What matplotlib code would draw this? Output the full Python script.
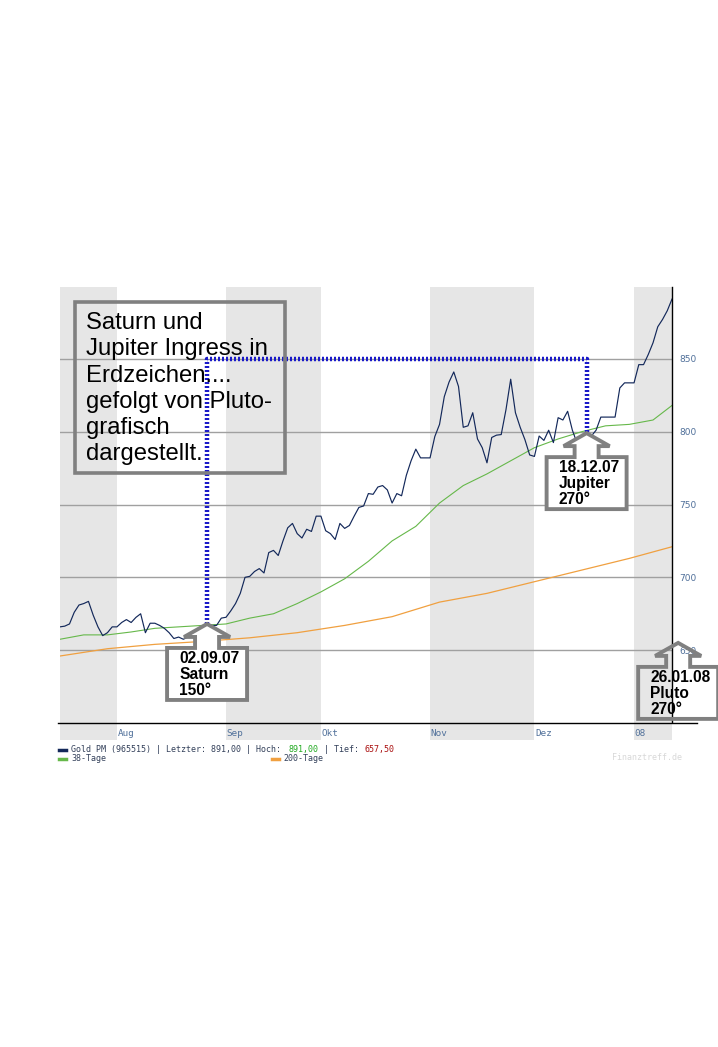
import numpy as np
import matplotlib
matplotlib.use("Agg")
import matplotlib.pyplot as plt
import matplotlib.patches as mpatches
import matplotlib.transforms as mtransforms
from matplotlib.lines import Line2D

# Gold PM fixing, one value per trading day (mid Jul 2007 - Jan 2008)
gold = [666, 666.5, 668, 676, 681, 682, 683.5, 674, 666, 660,
        662, 666, 666, 669, 671, 669, 672.5, 675, 662, 668.5,
        668.5, 667, 665, 662, 658, 659, 657.5, 659, 661, 663,
        665, 668, 667, 667, 672, 672.6, 677, 682, 689, 700,
        700.7, 704, 706, 703, 717, 718.5, 715, 725, 734, 737,
        730, 727, 733, 731.5, 742, 742, 732, 730, 726, 737,
        733.6, 735.6, 742, 748, 749, 757.5, 757, 762, 763, 760,
        751, 757.5, 756, 770, 780, 788, 782, 782, 782, 796.6,
        805, 824, 834, 841, 831, 803, 804, 813, 795, 789,
        778.6, 796, 797.6, 798, 815, 836, 813, 803, 794.5, 784,
        783, 797, 794, 801, 792.5, 809.6, 808, 814, 801, 792,
        791, 799, 797, 801, 810, 810, 810, 810, 830, 833.5,
        833.5, 833.5, 846, 846, 853, 861, 872, 877, 883, 891]

# moving averages (read every few trading days)
ma38_idx = [0, 5, 10, 15, 20, 25, 30, 35, 40, 45, 50, 55, 60, 65, 70, 75,
            80, 85, 90, 95, 100, 105, 110, 115, 120, 125, 129]
ma38 = [657.5, 660.5, 660.5, 662.5, 665, 666, 667, 668, 672, 675, 682, 690,
        699, 711, 725, 735, 751, 763, 771, 780, 789, 795, 800, 804, 805, 808, 818]
ma200_idx = [0, 10, 20, 30, 40, 50, 60, 70, 80, 90, 100, 110, 120, 129]
ma200 = [646, 651, 654, 656, 658.5, 662, 667, 673, 683, 689, 697, 705, 713, 721]

months = ["Aug", "Sep", "Okt", "Nov", "Dez", "08"]
month_start = [12, 35, 55, 78, 100, 121]
gray_months = [(0, 12), (35, 55), (78, 100), (121, 129)]
yticks = [650, 700, 750, 800, 850]

saturn_idx, jupiter_idx = 31, 111
pluto_pos = (130.3, 655)
ingress_level = 850

W, H = 718, 1047
fig = plt.figure(figsize=(W / 100, H / 100), dpi=100)
ax = fig.add_axes([60 / W, 1 - 722 / H, 612 / W, 435 / H])
ax.set_xlim(0, 129)
ax.set_ylim(600.7, 899.3)

for a, b in gray_months:
    ax.axvspan(a, b, ymin=-0.041, ymax=1, color="#e6e6e6", lw=0, zorder=0, clip_on=False)
for v in yticks:
    ax.axhline(v, color="#a0a0a0", lw=1, zorder=1)

x = np.arange(len(gold))
ax.plot(ma200_idx, ma200, color="#f0a040", lw=0.9, zorder=2)
ax.plot(ma38_idx, ma38, color="#66b84a", lw=0.8, zorder=2)
ax.plot(x, gold, color="#13285a", lw=0.85, zorder=3)

for sp in ["top", "left", "bottom"]:
    ax.spines[sp].set_visible(False)
ax.spines["right"].set_color("black")
ax.spines["right"].set_linewidth(1)
ax.spines["right"].set_zorder(8)
ax.set_xticks([])
ax.yaxis.tick_right()
ax.set_yticks(yticks)
ax.tick_params(axis="y", length=0, pad=5, labelsize=6.5, labelcolor="#50709a")

fig.add_artist(Line2D([58 / W, 697 / W], [1 - 722.5 / H] * 2, color="black", lw=1))

for m, s in zip(months, month_start):
    ax.text(s + 0.1, -0.027, m, transform=ax.get_xaxis_transform(), fontsize=6.7,
            family="DejaVu Sans Mono", color="#50709a", va="center", ha="left")

# dotted connection Saturn -> Jupiter
ax.plot([saturn_idx, saturn_idx, jupiter_idx, jupiter_idx],
        [gold[saturn_idx], ingress_level, ingress_level, gold[jupiter_idx]],
        color="#1a1ac8", lw=3.2, ls=(0, (0.45, 0.45)), zorder=6)

# text box
fig.add_artist(mpatches.Rectangle((75 / W, 1 - 473 / H), 210 / W, 171 / H, fill=False,
                                  edgecolor="#808080", lw=2.6, zorder=5))
fig.text(86 / W, 1 - 312 / H,
         "Saturn und\nJupiter Ingress in\nErdzeichen....\ngefolgt von Pluto-\ngrafisch\ndargestellt.",
         family="Liberation Sans", fontsize=17.2, linespacing=1.25, va="top", ha="left", zorder=5)

# arrow callouts
shape = [(0, 0), (23, -13), (12, -13), (12, -24), (40, -24), (40, -76),
         (-40, -76), (-40, -24), (-12, -24), (-12, -13), (-23, -13)]


def callout(pos, label, filled=True):
    fig.canvas.draw()
    px, py = ax.transData.transform(pos)
    tr = mtransforms.Affine2D().translate(px, py)
    poly = mpatches.Polygon(shape, closed=True, transform=tr, facecolor="white",
                            fill=filled, edgecolor="#808080", lw=2.8, zorder=7,
                            joinstyle="miter", clip_on=False)
    fig.add_artist(poly)
    fig.text((px - 28) / W, (py - 27) / H, label, fontsize=11.2, fontweight="bold",
             family="Liberation Sans", linespacing=1.08, va="top", ha="left", zorder=9)


callout((saturn_idx, gold[saturn_idx]), "02.09.07\nSaturn\n150\u00b0")
callout((jupiter_idx, gold[jupiter_idx]), "18.12.07\nJupiter\n270\u00b0")
callout(pluto_pos, "26.01.08\nPluto\n270\u00b0", filled=False)

# legend lines below chart
cw = 5.06
leg_font = dict(family="DejaVu Sans Mono", fontsize=6.05, va="center", ha="left")


def ftxt(px, py, s, color):
    fig.text(px / W, 1 - py / H, s, color=color, **leg_font)


def fdash(px, py, color):
    fig.add_artist(Line2D([px / W, (px + 7) / W], [1 - py / H] * 2, color=color, lw=2.5))


txt_col = "#33405a"
fdash(59, 749.5, "#13285a")
parts = [("Gold PM (965515) | Letzter: 891,00 | Hoch: ", txt_col), ("891,00", "#22aa22"),
         (" | Tief: ", txt_col), ("657,50", "#aa1010")]
pos = 71
for s, c in parts:
    ftxt(pos, 749.5, s, c)
    pos += len(s) * cw
fdash(59, 758.5, "#66b84a")
ftxt(71, 758.5, "38-Tage", txt_col)
fdash(272, 758.5, "#f0a040")
ftxt(283, 758.5, "200-Tage", txt_col)
ftxt(612, 757, "Finanztreff.de", "#d8d8d8")

fig.savefig("out.png", dpi=100)
